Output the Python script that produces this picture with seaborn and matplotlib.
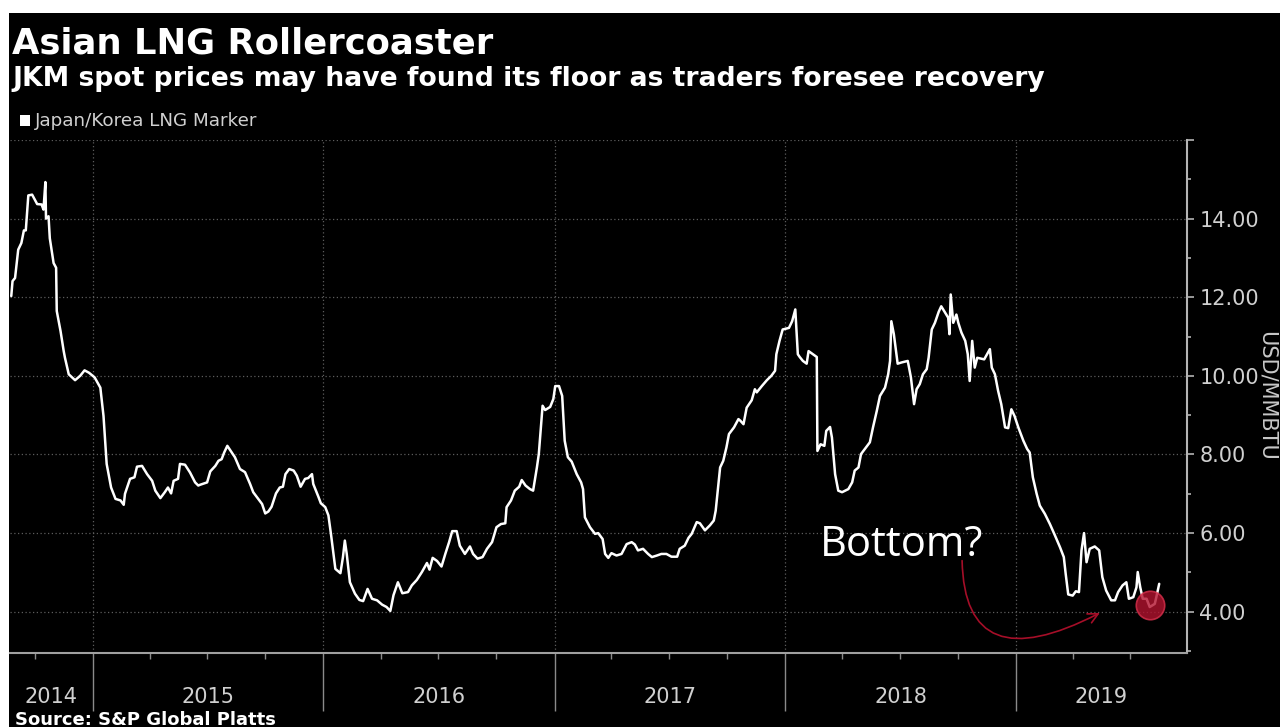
import pandas as pd
import matplotlib
matplotlib.use("Agg")
import matplotlib.pyplot as plt
import matplotlib.dates as mdates
import matplotlib.transforms as mtransforms
from matplotlib.patches import Rectangle, FancyArrowPatch
from matplotlib.path import Path
import seaborn as sns

# JKM spot price (days counted from 2015-01-01, USD/MMBtu)
day_offset = [
    -129, -127, -123, -118, -113, -109, -106, -102, -96, -88, -81, -78, -75, -74, -70, -68,
    -62, -58, -57, -51, -46, -44, -38, -28, -20, -13, -6, 3, 12, 17, 22, 29, 36, 44, 49, 51,
    59, 66, 70, 78, 86, 94, 99, 107, 114, 119, 124, 128, 135, 138, 146, 154, 162, 167, 170,
    181, 186, 194, 199, 204, 208, 213, 220, 225, 233, 241, 249, 254, 262, 268, 273, 278, 283,
    290, 296, 301, 305, 311, 318, 323, 329, 336, 341, 347, 349, 357, 361, 368, 373, 377, 381,
    384, 392, 396, 399, 402, 407, 415, 422, 428, 435, 442, 450, 458, 465, 471, 476, 483, 490,
    499, 505, 513, 521, 529, 533, 538, 545, 552, 558, 564, 569, 576, 581, 589, 597, 602, 609,
    617, 624, 632, 639, 646, 653, 655, 662, 668, 675, 679, 685, 692, 697, 703, 706, 712, 716,
    724, 729, 732, 738, 743, 747, 752, 758, 766, 773, 776, 779, 787, 795, 800, 807, 811, 816,
    821, 829, 837, 845, 853, 858, 863, 871, 879, 885, 893, 900, 908, 916, 925, 929, 937, 943,
    948, 956, 961, 969, 977, 983, 986, 993, 998, 1003, 1007, 1015, 1022, 1025, 1030, 1035,
    1043, 1048, 1051, 1059, 1067, 1074, 1080, 1082, 1087, 1092, 1102, 1107, 1112, 1116, 1119,
    1124, 1130, 1133, 1140, 1146, 1147, 1152, 1158, 1161, 1167, 1170, 1175, 1180, 1186, 1196,
    1202, 1206, 1212, 1216, 1222, 1230, 1235, 1241, 1246, 1254, 1259, 1262, 1264, 1268, 1274,
    1280, 1290, 1295, 1300, 1304, 1309, 1314, 1320, 1323, 1328, 1333, 1339, 1343, 1349, 1354,
    1356, 1358, 1362, 1367, 1370, 1375, 1381, 1385, 1388, 1392, 1396, 1400, 1411, 1420, 1423,
    1428, 1433, 1438, 1444, 1449, 1454, 1459, 1465, 1473, 1479, 1483, 1488, 1494, 1499, 1507,
    1515, 1523, 1531, 1537, 1540, 1544, 1551, 1556, 1561, 1565, 1569, 1573, 1578, 1586, 1593,
    1598, 1604, 1612, 1618, 1623, 1630, 1636, 1640, 1647, 1652, 1654, 1658, 1662, 1668, 1673,
    1681, 1684, 1688,
]
jkm_price = [
    12.03, 12.41, 12.49, 13.21, 13.38, 13.70, 13.70, 14.59, 14.61, 14.37, 14.36, 14.23, 14.93, 14.00, 14.06, 13.50,
    12.87, 12.75, 11.65, 11.14, 10.63, 10.46, 10.04, 9.89, 10.00, 10.14, 10.08, 9.96, 9.70, 8.98, 7.76, 7.16, 6.87, 6.83, 6.72, 7.00,
    7.38, 7.42, 7.69, 7.71, 7.50, 7.33, 7.08, 6.89, 7.04, 7.16, 7.01, 7.33, 7.38, 7.76, 7.74, 7.54, 7.29, 7.21, 7.23,
    7.29, 7.57, 7.71, 7.84, 7.88, 8.05, 8.22, 8.05, 7.93, 7.63, 7.55, 7.25, 7.04, 6.87, 6.74, 6.50, 6.55, 6.67,
    7.01, 7.16, 7.18, 7.50, 7.63, 7.59, 7.46, 7.18, 7.38, 7.40, 7.50, 7.25, 6.93, 6.76, 6.66, 6.45, 5.98, 5.47,
    5.09, 4.98, 5.39, 5.81, 5.47, 4.75, 4.46, 4.30, 4.27, 4.58, 4.33, 4.29, 4.18, 4.12, 4.02, 4.42, 4.75, 4.47,
    4.50, 4.67, 4.81, 5.01, 5.24, 5.07, 5.37, 5.29, 5.15, 5.47, 5.77, 6.05, 6.05, 5.68, 5.47, 5.66, 5.47, 5.35,
    5.39, 5.60, 5.77, 6.15, 6.23, 6.25, 6.66, 6.83, 7.08, 7.18, 7.35, 7.21, 7.12, 7.08, 7.67, 8.01, 9.24, 9.13,
    9.21, 9.41, 9.74, 9.74, 9.49, 8.35, 7.93, 7.82, 7.50, 7.29, 7.12, 6.40, 6.15, 5.98, 6.00, 5.85, 5.47, 5.37,
    5.49, 5.43, 5.47, 5.72, 5.77, 5.71, 5.56, 5.60, 5.47, 5.39, 5.43, 5.47, 5.47, 5.40, 5.40, 5.60, 5.68, 5.88,
    5.98, 6.28, 6.25, 6.07, 6.20, 6.32, 6.57, 7.67, 7.84, 8.18, 8.52, 8.69, 8.90, 8.86, 8.77, 9.19,
    9.38, 9.66, 9.58, 9.74, 9.89, 10.00, 10.13, 10.55, 10.89, 11.18, 11.22, 11.39, 11.69, 10.55, 10.48,
    10.38, 10.31, 10.63, 10.55, 10.48, 8.09, 8.26, 8.22, 8.60, 8.70, 8.43, 7.50, 7.08, 7.04, 7.12,
    7.29, 7.59, 7.67, 8.01, 8.14, 8.31, 8.69, 9.11, 9.49, 9.70, 10.04, 10.38, 11.39, 11.06, 10.31,
    10.34, 10.38, 9.96, 9.28, 9.66, 9.79, 10.04, 10.17, 10.46, 11.18, 11.35, 11.63, 11.77, 11.61, 11.48,
    11.06, 12.07, 11.35, 11.56, 11.35, 11.10, 10.89, 10.55, 9.87, 10.89, 10.21, 10.46, 10.42, 10.68, 10.21,
    10.04, 9.62, 9.28, 8.69, 8.67, 9.15, 8.98, 8.69, 8.35, 8.14, 8.05, 7.42, 7.00, 6.70, 6.49,
    6.23, 5.94, 5.64, 5.39, 4.96, 4.44, 4.41, 4.52, 4.50, 5.56, 6.00, 5.26, 5.60, 5.66, 5.56,
    4.88, 4.54, 4.29, 4.29, 4.50, 4.67, 4.75, 4.33, 4.37, 4.62, 5.01, 4.62, 4.33, 4.33, 4.12,
    4.20, 4.41, 4.71,
]
year_labels = ["2014", "2015", "2016", "2017", "2018", "2019"]
y_ticks = [4, 6, 8, 10, 12, 14, 16]

# annotation anchors (days from 2015-01-01, price)
bottom_point = (1673, 4.17)
bottom_text = (1151, 5.42)
arrow_nodes = [(1376, 5.30), (1380, 2.20), (1594, 3.97)]

base = pd.Timestamp("2015-01-01")


def to_num(d):
    return mdates.date2num(base + pd.Timedelta(days=d))


df = pd.DataFrame({
    "date": base + pd.to_timedelta(day_offset, unit="D"),
    "price": jkm_price,
})

sns.set_theme(style="dark")
plt.rcParams["font.family"] = ["DejaVu Sans"]

W, H = 1280, 727
fig = plt.figure(figsize=(12.8, 7.27), dpi=100, facecolor="white")
fig.add_artist(Rectangle((9 / W, 0), (1280 - 9) / W, (H - 13) / H, transform=fig.transFigure,
                         facecolor="black", edgecolor="none", zorder=-5))

ax = fig.add_axes([10 / W, 74 / H, 1177 / W, 513 / H])
ax.set_facecolor("black")

sns.lineplot(data=df, x="date", y="price", color="white", linewidth=1.8, ax=ax, legend=False)

ax.set_xlim(base + pd.Timedelta(days=-131), base + pd.Timedelta(days=1732))
ax.set_ylim(2.95, 16.0)

# y axis on the right
ax.yaxis.tick_right()
ax.set_yticks(y_ticks)
ax.set_yticklabels([f"{v:.2f}" if v < 16 else "" for v in y_ticks])
ax.set_yticks(range(3, 17, 2), minor=True)
ax.tick_params(axis="y", which="major", length=5, width=1.2, color="#b4b4b4",
               labelcolor="#d0d0d0", labelsize=15, pad=4, right=True, left=False)
ax.tick_params(axis="y", which="minor", length=3, width=1.2, color="#b4b4b4", right=True, left=False)

# x axis: year separators + quarter ticks
years = pd.date_range("2015-01-01", "2019-01-01", freq="YS")
quarters = [q for q in pd.date_range("2014-10-01", "2019-07-01", freq="QS") if q.month != 1]
ax.set_xticks(years)
ax.set_xticklabels([])
ax.set_xticks(quarters, minor=True)
ax.tick_params(axis="x", which="major", length=42, width=1, color="#8a8a8a", direction="out", bottom=True)
ax.tick_params(axis="x", which="minor", length=4, width=1, color="#8a8a8a", direction="out", bottom=True)

ax.set_xlabel("")
ax.set_ylabel("")

ax.grid(True, which="major", axis="both", color="#5c5c5c", linestyle=(0, (1, 2)), linewidth=0.9)
for side in ["left", "top"]:
    ax.spines[side].set_visible(False)
ax.spines["right"].set_color("#b4b4b4")
ax.spines["right"].set_linewidth(1.5)
ax.spines["bottom"].set_color("#a0a0a0")
ax.spines["bottom"].set_linewidth(1.5)

# year labels centred in each visible year span
trans = mtransforms.blended_transform_factory(ax.transData, ax.transAxes)
x0, x1 = ax.get_xlim()
for lab in year_labels:
    s = max(mdates.date2num(pd.Timestamp(f"{lab}-01-01")), x0)
    e = min(mdates.date2num(pd.Timestamp(f"{int(lab) + 1}-01-01")), x1)
    ax.text((s + e) / 2, -0.086, lab, transform=trans, ha="center", va="center",
            color="#d0d0d0", fontsize=15)

# annotation
ax.text(to_num(bottom_text[0]), bottom_text[1], "Bottom?", family=["Open Sans", "DejaVu Sans"],
        fontsize=30, color="white", va="baseline", ha="left")
path = Path([(to_num(d), v) for d, v in arrow_nodes], [Path.MOVETO, Path.CURVE3, Path.CURVE3])
ax.add_patch(FancyArrowPatch(path=path, arrowstyle="->", mutation_scale=18,
                             color="#a50e28", linewidth=1.2, zorder=4))
ax.scatter([to_num(bottom_point[0])], [bottom_point[1]], s=420, color="#b3132f",
           alpha=0.8, edgecolor="#d8304c", linewidth=1.2, zorder=5)

# titles, legend, labels
fig.text(12 / W, (H - 53) / H, "Asian LNG Rollercoaster", fontsize=25.5, weight="bold",
         color="white", va="baseline")
fig.text(12 / W, (H - 86) / H, "JKM spot prices may have found its floor as traders foresee recovery",
         fontsize=19.2, weight="bold", color="white", va="baseline")
fig.add_artist(Rectangle((20 / W, (H - 126) / H), 10 / W, 11 / H, transform=fig.transFigure,
                         facecolor="white", edgecolor="none"))
fig.text(35 / W, (H - 121) / H, "Japan/Korea LNG Marker", fontsize=13.2, color="#d0d0d0", va="center")
fig.text(1267 / W, (H - 396) / H, "USD/MMBTU", rotation=270, fontsize=15, color="#c8c8c8",
         ha="center", va="center")
fig.text(15 / W, (H - 711) / H, "Source: S&P Global Platts", fontsize=13, weight="bold",
         color="white", va="top")

fig.savefig("out.png", dpi=100, facecolor=fig.get_facecolor())
